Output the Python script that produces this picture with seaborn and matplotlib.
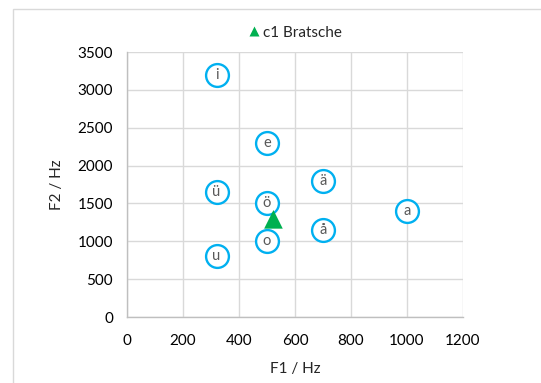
import numpy as np
import pandas as pd
import matplotlib
matplotlib.use("Agg")
import matplotlib.pyplot as plt
import seaborn as sns
from matplotlib.patches import Rectangle

# vowel formants
vowels = ["i", "e", "ä", "ü", "ö", "a", "å", "o", "u"]
f1_vowels = [320, 500, 700, 320, 500, 1000, 700, 500, 320]
f2_vowels = [3200, 2300, 1800, 1650, 1500, 1400, 1150, 1000, 800]

# viola note
viola_label = "c1 Bratsche"
f1_viola = [523]
f2_viola = [1290]

x_ticks = [0, 200, 400, 600, 800, 1000, 1200]
y_ticks = [0, 500, 1000, 1500, 2000, 2500, 3000, 3500]

sns.set_style("white")
plt.rcParams["font.family"] = ["Lato", "DejaVu Sans"]

vow = pd.DataFrame({"F1": f1_vowels, "F2": f2_vowels, "vokal": vowels})
vio = pd.DataFrame({"F1": f1_viola, "F2": f2_viola, "name": [viola_label]})

fig = plt.figure(figsize=(5.41, 3.83), dpi=100)
ax = fig.add_axes([0.2348, 0.1723, 0.6210, 0.6919])

# chart border
fig.patches.append(Rectangle((13 / 541, -0.1), 1.2, 1 - 9 / 383 + 0.1,
                             transform=fig.transFigure, fill=False,
                             edgecolor="#D9D9D9", linewidth=1.0, zorder=0))

sns.scatterplot(data=vow, x="F1", y="F2", ax=ax, marker="o", s=270,
                facecolor="white", edgecolor="#00B0F0", linewidth=1.7,
                zorder=3, legend=False)
for _, r in vow.iterrows():
    ax.text(r["F1"], r["F2"], r["vokal"], ha="center", va="center",
            fontsize=10.5, color="#595959", zorder=4)

sns.scatterplot(data=vio, x="F1", y="F2", hue="name", palette=["#00B050"],
                ax=ax, marker="^", s=180, edgecolor="none", zorder=5)

ax.set_xlim(0, 1200)
ax.set_ylim(0, 3500)
ax.set_xticks(x_ticks)
ax.set_yticks(y_ticks)
ax.grid(True, color="#D9D9D9", linewidth=1.0)
ax.set_axisbelow(True)
for s in ["top", "right"]:
    ax.spines[s].set_visible(False)
for s in ["left", "bottom"]:
    ax.spines[s].set_color("#BFBFBF")
    ax.spines[s].set_linewidth(1.0)
ax.tick_params(axis="both", length=0, labelsize=11, colors="black")
ax.tick_params(axis="x", pad=12)
ax.tick_params(axis="y", pad=10)
ax.set_xlabel("F1 / Hz", fontsize=11, labelpad=10)
ax.set_ylabel("F2 / Hz", fontsize=11, labelpad=10)

leg = ax.legend(loc="lower center", bbox_to_anchor=(0.5, 1.0), frameon=False,
                fontsize=11, handletextpad=0.2, handlelength=0.8,
                markerscale=0.55, borderaxespad=0.4)

fig.savefig("out.png", dpi=100)
